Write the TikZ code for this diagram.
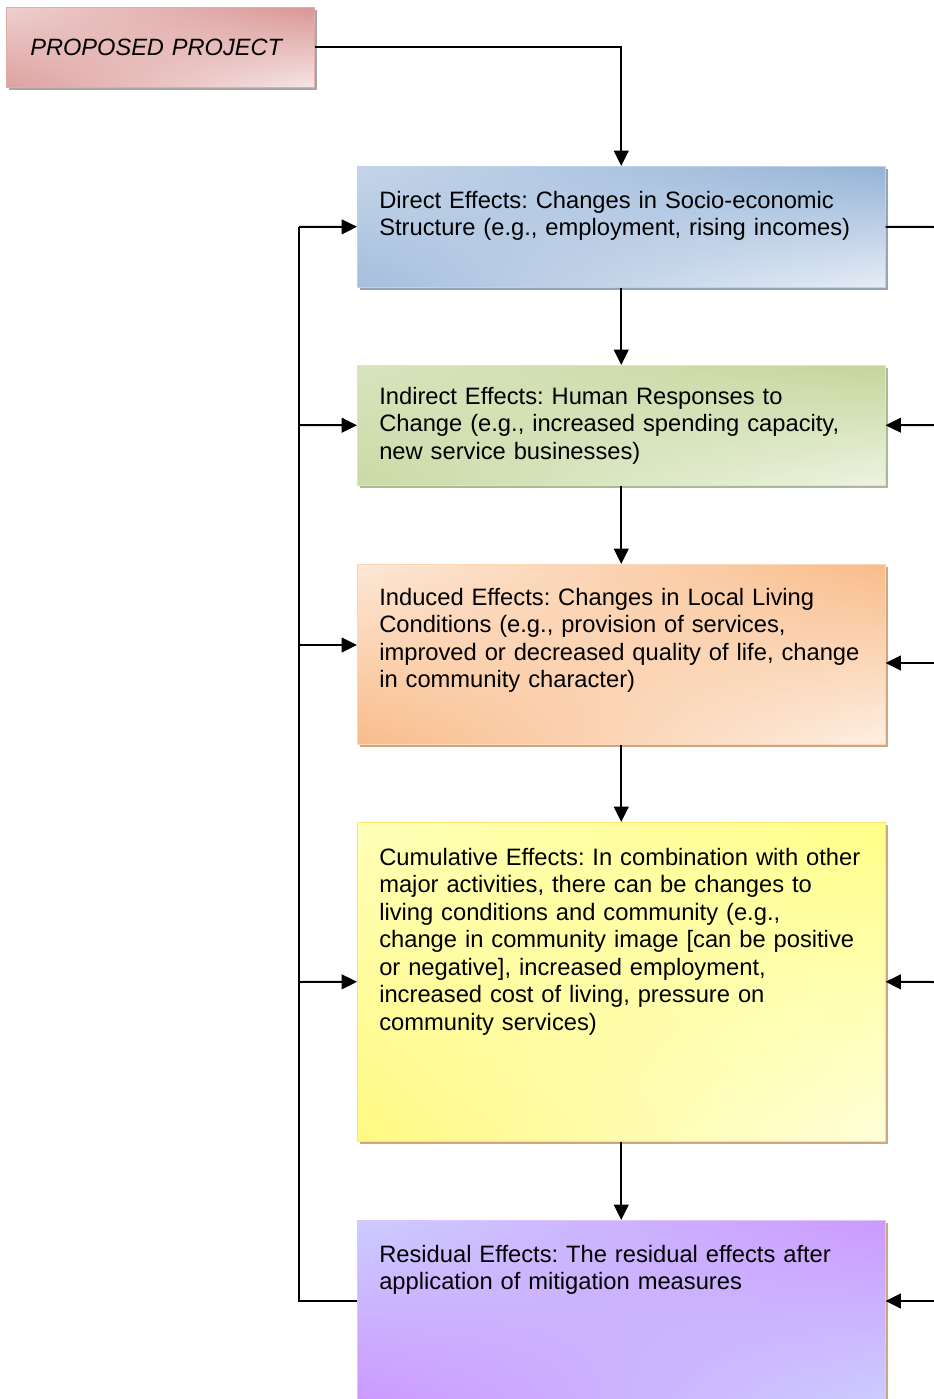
\documentclass[tikz,border=0pt]{standalone}
\usepackage{fontspec}
\setmainfont{Liberation Sans}
\usetikzlibrary{arrows.meta,shadows,shadings}
\frenchspacing

\definecolor{pinkD}{HTML}{D99694}
\definecolor{pinkL}{HTML}{F6E6E6}
\definecolor{blueD}{HTML}{95B3D7}
\definecolor{blueL}{HTML}{E6EDF6}
\definecolor{greenD}{HTML}{C3D69B}
\definecolor{greenL}{HTML}{EEF3E2}
\definecolor{orangeD}{HTML}{F9BC8A}
\definecolor{orangeL}{HTML}{FDEFE3}
\definecolor{yellowD}{HTML}{FFFF88}
\definecolor{yellowL}{HTML}{FFFFDA}
\definecolor{purpleD}{HTML}{CC99FF}
\definecolor{purpleL}{HTML}{CCCCFF}
\definecolor{tanshadow}{HTML}{CFA683}

\begin{document}
\begin{tikzpicture}[x=0.75pt, y=-0.75pt,
    box/.style={anchor=north west, inner sep=0pt, minimum width=396pt},
    boxtext/.style={anchor=north west, inner sep=0pt, text width=375pt, align=left,
      font=\fontsize{17.8}{20.6}\selectfont},
    arr/.style={-{Triangle[length=11.5pt,width=11pt]}, line width=1.5pt},
    wire/.style={line width=1.5pt}]

  \useasboundingbox (0,0) rectangle (934,1399);

  % --- progetto ---
  \node[anchor=north west, inner xsep=18pt, inner ysep=0pt, text width=195pt, align=left,
    minimum height=60pt,
    draw=pinkD!80, upper left=pinkD!45!white, upper right=pinkD, lower left=pinkD!90,
    lower right=pinkL,
    drop shadow={shadow xshift=2.3pt, shadow yshift=-2.3pt, fill=black!35, opacity=1},
    font=\fontsize{17.7}{21}\selectfont\itshape] (project) at (6,7) {PROPOSED PROJECT};

  % --- riquadri ---
  \node[box, minimum height=90.75pt, draw=blueD!60,
    upper left=blueD!55!white, upper right=blueD, lower left=blueD!85, lower right=blueL,
    drop shadow={shadow xshift=2.3pt, shadow yshift=-2.3pt, fill=blueD!70!black!70, opacity=1}]
    (direct) at (357,166) {};
  \node[boxtext] (directtxt) at (379,191)
    {Direct Effects: Changes in Socio-economic\\ Structure (e.g., employment, rising incomes)};

  \node[box, minimum height=90pt, draw=greenD!60,
    upper left=greenD!65!white, upper right=greenD, lower left=greenD!90, lower right=greenL,
    drop shadow={shadow xshift=2.3pt, shadow yshift=-2.3pt, fill=greenD!75!black!75, opacity=1}]
    (indirect) at (357,365) {};
  \node[boxtext] (indirecttxt) at (379,387)
    {Indirect Effects: Human Responses to\\ Change (e.g., increased spending capacity,\\ new service businesses)};

  \node[box, minimum height=135pt, draw=orangeD!60,
    upper left=orangeD!35!white, upper right=orangeD, lower left=orangeD, lower right=orangeL,
    drop shadow={shadow xshift=2.3pt, shadow yshift=-2.3pt, fill=tanshadow, opacity=1}]
    (induced) at (357,564) {};
  \node[boxtext] (inducedtxt) at (379,588)
    {Induced Effects: Changes in Local Living\\ Conditions (e.g., provision of services,\\
     improved or decreased quality of life, change\\ in community character)};

  \node[box, minimum height=239.25pt, draw=yellowD!80!orange,
    upper left=yellowD!60!white, upper right=yellowD, lower left=yellowD!95!orange, lower right=yellowL,
    drop shadow={shadow xshift=2.3pt, shadow yshift=-2.3pt, fill=tanshadow, opacity=1}]
    (cumulative) at (357,822) {};
  \node[boxtext] (cumulativetxt) at (379,848)
    {Cumulative Effects: In combination with other\\ major activities, there can be changes to\\
     living conditions and community (e.g.,\\ change in community image [can be positive\\
     or negative], increased employment,\\ increased cost of living, pressure on\\
     community services)};

  \node[box, minimum height=135pt, draw=purpleD!60,
    upper left=purpleL, upper right=purpleD, lower left=purpleD, lower right=purpleL,
    drop shadow={shadow xshift=2.3pt, shadow yshift=-2.3pt, fill=tanshadow, opacity=1}]
    (residual) at (357,1220) {};
  \node[boxtext] (residualtxt) at (379,1245)
    {Residual Effects: The residual effects after\\ application of mitigation measures};

  % --- catena verticale ---
  \draw[arr] (project.east) -| (direct.north);
  \draw[arr] (direct.south) -- (indirect.north);
  \draw[arr] (indirect.south) -- (induced.north);
  \draw[arr] (induced.south) -- (cumulative.north);
  \draw[arr] (cumulative.south) -- (residual.north);

  % --- ritorno a sinistra ---
  \coordinate (bus1) at (299,227);
  \coordinate (bus2) at (299,425);
  \coordinate (bus3) at (299,645);
  \coordinate (bus4) at (299,982);
  \coordinate (bus5) at (299,1301);
  \draw[wire] (bus5 -| residual.west) -- (bus5) -- (bus1);
  \draw[arr] (bus1) -- (direct.west);
  \draw[arr] (bus2) -- (indirect.west);
  \draw[arr] (bus3) -- (bus3 -| induced.west);
  \draw[arr] (bus4) -- (cumulative.west);

  % --- ritorno a destra ---
  \coordinate (rim1) at (934,227);
  \coordinate (rim2) at (934,425);
  \coordinate (rim3) at (934,663);
  \coordinate (rim4) at (934,982);
  \coordinate (rim5) at (934,1301);
  \draw[wire] (direct.east) -- (rim1);
  \draw[arr] (rim2) -- (indirect.east);
  \draw[arr] (rim3) -- (rim3 -| induced.east);
  \draw[arr] (rim4) -- (cumulative.east);
  \draw[arr] (rim5) -- (rim5 -| residual.east);

\end{tikzpicture}
\end{document}
